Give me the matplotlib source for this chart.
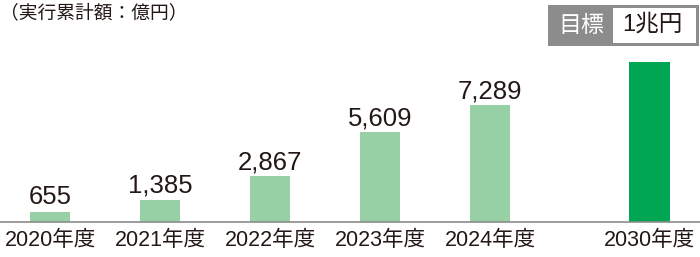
import matplotlib
matplotlib.use("Agg")
import matplotlib.pyplot as plt
from matplotlib.patches import Rectangle

plt.rcParams['font.family'] = ['Liberation Sans', 'Noto Sans CJK JP', 'DejaVu Sans']
cjk = ['Noto Sans CJK JP', 'DejaVu Sans']

# data
years = ["2020年度", "2021年度", "2022年度", "2023年度", "2024年度", "2030年度"]
values = [655, 1385, 2867, 5609, 7289, 10000]
value_labels = ["655", "1,385", "2,867", "5,609", "7,289", ""]
positions = [0, 1, 2, 3, 4, 5.45]
colors = ["#96d0a4"] * 5 + ["#00a651"]

W, H = 700, 257
fig = plt.figure(figsize=(W / 100, H / 100), dpi=100)

# axes: baseline at y=222px from top, bar centre 0 at x=50px, 110px per step
ax = fig.add_axes([0, 35 / H, 1, 222 / H])
ax.bar(positions, values, width=0.37, color=colors, zorder=2)
ax.set_xlim(-50 / 110, 650 / 110)
ax.set_ylim(0, 222 / 0.016)

for x, v, lab in zip(positions, values, value_labels):
    if lab:
        ax.annotate(lab, (x, v), xytext=(0, 1.5), textcoords="offset points",
                    ha="center", va="bottom", fontsize=18.5, color="#231815")

ax.set_xticks(positions)
ax.set_xticklabels(years, fontsize=15.5, color="#231815")
ax.tick_params(axis="x", length=0, pad=6)
ax.set_yticks([])
for s in ["top", "left", "right"]:
    ax.spines[s].set_visible(False)
ax.spines["bottom"].set_color("#8c8c8c")
ax.spines["bottom"].set_linewidth(1.2)
ax.patch.set_alpha(0)


def px(x, y):
    return x / W, 1 - y / H


# unit label
fig.text(*px(0, 13), "（実行累計額：億円）", fontsize=13.5, color="#231815",
         ha="left", va="center", family=cjk)

# target box
x0, y0 = px(548, 46)
fig.patches.append(Rectangle((x0, y0), 151 / W, 41 / H, transform=fig.transFigure,
                             facecolor="#8c8c8c", edgecolor="none"))
x1, y1 = px(613, 43)
fig.patches.append(Rectangle((x1, y1), 83 / W, 35 / H, transform=fig.transFigure,
                             facecolor="white", edgecolor="none"))
fig.text(*px(581, 25), "目標", fontsize=16.5, color="white", ha="center", va="center",
         family=cjk)
fig.text(*px(652, 25), "1兆円", fontsize=17, color="#231815", ha="center", va="center")

fig.savefig("out.png", dpi=100)
